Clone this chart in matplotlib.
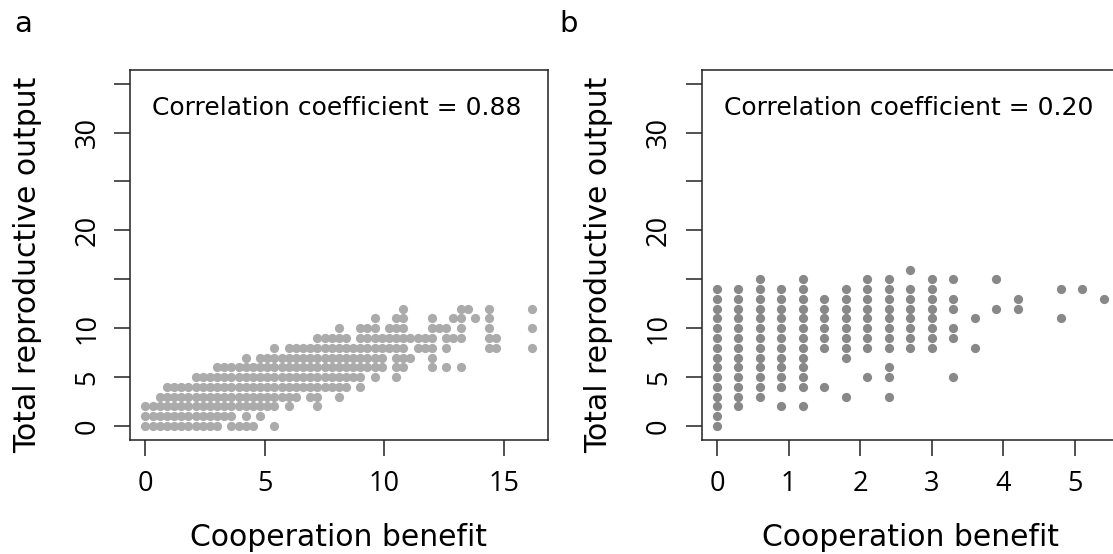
import matplotlib
matplotlib.use("Agg")
import matplotlib.pyplot as plt

# ---------------- Panel a: x values of the points on each y row ----------------
a_y0_x = [0.0, 0.3, 0.6, 0.9, 1.2, 1.5, 1.8, 2.1, 2.4, 2.7, 3.0, 3.6, 3.9, 4.2, 4.5, 5.4]
a_y1_x = [0.0, 0.3, 0.6, 0.9, 1.2, 1.5, 1.8, 2.1, 2.4, 2.7, 3.0, 3.3, 3.6, 4.2, 4.8]
a_y2_x = [0.0, 0.3, 0.6, 0.9, 1.2, 1.5, 1.8, 2.1, 2.4, 2.7, 3.0, 3.3, 3.6, 3.9, 4.2, 4.5,
          4.8, 5.1, 5.4, 6.0, 7.2]
a_y3_x = [0.6, 0.9, 1.2, 1.5, 1.8, 2.1, 2.4, 2.7, 3.0, 3.3, 3.6, 3.9, 4.2, 4.5, 4.8, 5.1,
          5.4, 5.7, 6.0, 6.3, 6.9, 7.2, 8.1]
a_y4_x = [0.9, 1.2, 1.5, 1.8, 2.1, 2.4, 2.7, 3.0, 3.3, 3.6, 3.9, 4.2, 4.5, 4.8, 5.1, 5.4,
          5.7, 6.0, 6.3, 6.6, 6.9, 7.2, 7.5, 7.8, 8.1, 8.4, 9.0]
a_y5_x = [2.1, 2.4, 2.7, 3.0, 3.3, 3.6, 3.9, 4.2, 4.5, 4.8, 5.1, 5.4, 5.7, 6.0, 6.3, 6.6,
          6.9, 7.2, 7.5, 7.8, 8.1, 8.4, 8.7, 9.0, 9.6, 10.5]
a_y6_x = [3.0, 3.3, 3.6, 3.9, 4.2, 4.5, 4.8, 5.1, 5.4, 5.7, 6.0, 6.3, 6.6, 6.9, 7.2, 7.5,
          7.8, 8.1, 8.4, 8.7, 9.0, 9.3, 9.6, 9.9, 10.5, 10.8, 12.0, 12.6, 13.2]
a_y7_x = [4.2, 4.8, 5.1, 5.4, 5.7, 6.0, 6.3, 6.6, 6.9, 7.2, 7.5, 7.8, 8.1, 8.4, 8.7, 9.0,
          9.3, 9.6, 9.9, 10.5, 10.8, 11.1, 12.0]
a_y8_x = [5.4, 6.0, 6.3, 6.6, 6.9, 7.2, 7.5, 7.8, 8.1, 8.4, 8.7, 9.0, 9.3, 9.6, 9.9, 10.2,
          10.5, 10.8, 11.4, 11.7, 12.0, 12.6, 14.4, 14.7, 16.2]
a_y9_x = [7.2, 7.5, 7.8, 8.1, 8.4, 9.0, 9.3, 9.6, 9.9, 10.2, 10.5, 10.8, 11.1, 11.4, 11.7,
          12.0, 12.6, 12.9, 13.2, 14.4, 14.7]
a_y10_x = [8.1, 9.0, 9.3, 9.6, 10.2, 10.5, 10.8, 12.0, 12.3, 12.6, 13.2, 14.4, 16.2]
a_y11_x = [9.6, 10.5, 10.8, 12.0, 12.9, 13.2, 13.8, 14.4]
a_y12_x = [10.8, 13.2, 13.5, 14.4, 16.2]
a_rows = [a_y0_x, a_y1_x, a_y2_x, a_y3_x, a_y4_x, a_y5_x, a_y6_x, a_y7_x, a_y8_x,
          a_y9_x, a_y10_x, a_y11_x, a_y12_x]
a_row_y = [0, 1, 2, 3, 4, 5, 6, 7, 8, 9, 10, 11, 12]

# ---------------- Panel b: y values of the points in each x column ----------------
b_cols_x = [0.0, 0.3, 0.6, 0.9, 1.2, 1.5, 1.8, 2.1, 2.4, 2.7, 3.0, 3.3, 3.6, 3.9, 4.2, 4.8, 5.1, 5.4]
b_cols_y = [
    [0, 1, 2, 3, 4, 5, 6, 7, 8, 9, 10, 11, 12, 13, 14],
    [2, 3, 4, 5, 6, 7, 8, 9, 10, 11, 12, 13, 14],
    [3, 4, 5, 6, 7, 8, 9, 10, 11, 12, 13, 14, 15],
    [2, 4, 5, 6, 7, 8, 9, 10, 11, 12, 13, 14],
    [2, 4, 5, 6, 7, 8, 9, 10, 11, 12, 13, 14, 15],
    [4, 8, 9, 10, 11, 12, 13],
    [3, 7, 8, 9, 10, 11, 12, 13, 14],
    [5, 8, 9, 10, 11, 12, 13, 14, 15],
    [3, 5, 6, 8, 9, 10, 11, 12, 13, 14, 15],
    [8, 9, 10, 11, 12, 13, 14, 16],
    [8, 9, 10, 11, 12, 13, 14, 15],
    [5, 9, 10, 12, 13, 15],
    [8, 11],
    [12, 15],
    [12, 13],
    [11, 14],
    [14],
    [13],
]

corr_a = "0.88"
corr_b = "0.20"
x_ticks_a = [0, 5, 10, 15]
x_ticks_b = [0, 1, 2, 3, 4, 5]
y_ticks = [0, 5, 10, 15, 20, 25, 30, 35]
y_ticklabels = ["0", "5", "10", "", "20", "", "30", ""]

# ---------------- build point arrays ----------------
ax_pts, ay_pts = [], []
for yv, xs in zip(a_row_y, a_rows):
    for xv in xs:
        ax_pts.append(xv)
        ay_pts.append(yv)
bx_pts, by_pts = [], []
for xv, ys in zip(b_cols_x, b_cols_y):
    for yv in ys:
        bx_pts.append(xv)
        by_pts.append(yv)

W, H = 1113, 554
fig = plt.figure(figsize=(W / 100, H / 100), dpi=100)
plt.rcParams['font.family'] = ['DejaVu Sans']

ax_w = 417.7 / W
ax_h = (439.7 - 70) / H
ax_b = 1 - 439.7 / H
axA = fig.add_axes([130 / W, ax_b, ax_w, ax_h])
axB = fig.add_axes([701.5 / W, ax_b, ax_w, ax_h])

tick_font = dict(family=['Open Sans', 'DejaVu Sans'], size=19.5, color='black')


def style(ax, xs, ys, color, xlim, xticks, corr, cx):
    ax.scatter(xs, ys, s=44, c=color, linewidths=0, zorder=3)
    ax.set_xlim(*xlim)
    ax.set_ylim(-1.4, 36.4)
    ax.set_xticks(xticks)
    ax.set_xticklabels([str(t) for t in xticks], fontdict=tick_font)
    ax.set_yticks(y_ticks)
    ax.set_yticklabels(y_ticklabels, fontdict=tick_font, rotation=90, va='center')
    for sp in ax.spines.values():
        sp.set_linewidth(1.1)
        sp.set_color('#222222')
    ax.tick_params(axis='x', direction='out', length=11.5, width=1.1, pad=10, color='#222222')
    ax.tick_params(axis='y', direction='out', length=11.5, width=1.1, pad=9, color='#222222')
    ax.set_xlabel("Cooperation benefit", fontsize=21.5, va='baseline')
    ax.xaxis.set_label_coords(0.5, (439.7 - 546) / 369.7)
    ax.set_ylabel("Total reproductive output", fontsize=21.5, va='baseline')
    ax.yaxis.set_label_coords((36 - 130) / 417.7, (439.7 - 265) / 369.7)
    ax.text(cx, 32.5, "Correlation coefficient = " + corr, fontsize=18,
            ha='center', va='center')


style(axA, ax_pts, ay_pts, '#ababab', (-0.648, 16.848), x_ticks_a, corr_a, 8.0)
style(axB, bx_pts, by_pts, '#888888', (-0.216, 5.616), x_ticks_b, corr_b, 2.67)

fig.text(14 / W, 1 - 32 / H, "a", fontsize=21, ha='left', va='baseline')
fig.text(559 / W, 1 - 32 / H, "b", fontsize=21, ha='left', va='baseline')

fig.savefig("out.png", dpi=100)
